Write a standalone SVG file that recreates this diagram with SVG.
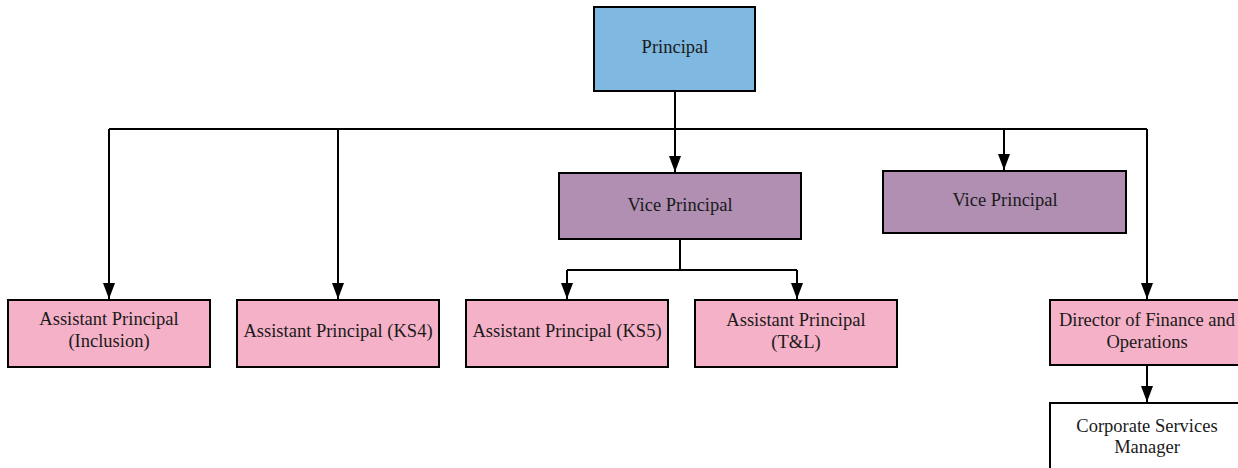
<svg xmlns="http://www.w3.org/2000/svg" width="1238" height="468" viewBox="0 0 1238 468">
<style>
.box{stroke:#000;stroke-width:2}
.blue{fill:#7fb8e0}
.purple{fill:#b08fb3}
.pink{fill:#f5b1c7}
.white{fill:#fff}
text{font-family:"Liberation Serif","Times New Roman",serif;font-size:18.5px;fill:#1a1a1a;text-anchor:middle}
.conn{fill:none;stroke:#000;stroke-width:2}
</style>
<defs>
<marker id="arr" viewBox="0 0 16 12" refX="16" refY="6" markerWidth="16" markerHeight="12" markerUnits="userSpaceOnUse" orient="auto">
<path d="M0,0 L16,6 L0,12 z" fill="#000"/>
</marker>
</defs>
<rect width="1238" height="468" fill="#fff"/>
<g id="connectors">
<path class="conn" d="M675,91 V129"/>
<path class="conn" d="M109,129 H1147"/>
<path class="conn" d="M109,129 V299" marker-end="url(#arr)"/>
<path class="conn" d="M338,129 V299" marker-end="url(#arr)"/>
<path class="conn" d="M675,129 V172" marker-end="url(#arr)"/>
<path class="conn" d="M1004,129 V170" marker-end="url(#arr)"/>
<path class="conn" d="M1147,129 V299" marker-end="url(#arr)"/>
<path class="conn" d="M680,240 V270 M567,270 H797"/>
<path class="conn" d="M567,270 V299" marker-end="url(#arr)"/>
<path class="conn" d="M797,270 V299" marker-end="url(#arr)"/>
<path class="conn" d="M1147,366 V402" marker-end="url(#arr)"/>
</g>
<g id="principal">
<rect class="box blue" x="594" y="7" width="161" height="84"/>
<text x="675" y="53">Principal</text>
</g>
<g id="vp1">
<rect class="box purple" x="559" y="173" width="242" height="66"/>
<text x="680" y="211">Vice Principal</text>
</g>
<g id="vp2">
<rect class="box purple" x="883" y="171" width="243" height="62"/>
<text x="1005" y="206">Vice Principal</text>
</g>
<g id="ap-inclusion">
<rect class="box pink" x="8" y="300" width="202" height="67"/>
<text x="109" y="325">Assistant Principal</text>
<text x="109" y="347">(Inclusion)</text>
</g>
<g id="ap-ks4">
<rect class="box pink" x="237" y="300" width="202" height="67"/>
<text x="338" y="337">Assistant Principal (KS4)</text>
</g>
<g id="ap-ks5">
<rect class="box pink" x="466" y="300" width="202" height="67"/>
<text x="567" y="337">Assistant Principal (KS5)</text>
</g>
<g id="ap-tl">
<rect class="box pink" x="695" y="300" width="202" height="67"/>
<text x="796" y="326">Assistant Principal</text>
<text x="796" y="348">(T&amp;L)</text>
</g>
<g id="director">
<rect class="box pink" x="1050" y="300" width="194" height="65"/>
<text x="1147" y="326">Director of Finance and</text>
<text x="1147" y="348">Operations</text>
</g>
<g id="corporate">
<rect class="box white" x="1050" y="403" width="194" height="70"/>
<text x="1147" y="432">Corporate Services</text>
<text x="1147" y="453">Manager</text>
</g>
</svg>
